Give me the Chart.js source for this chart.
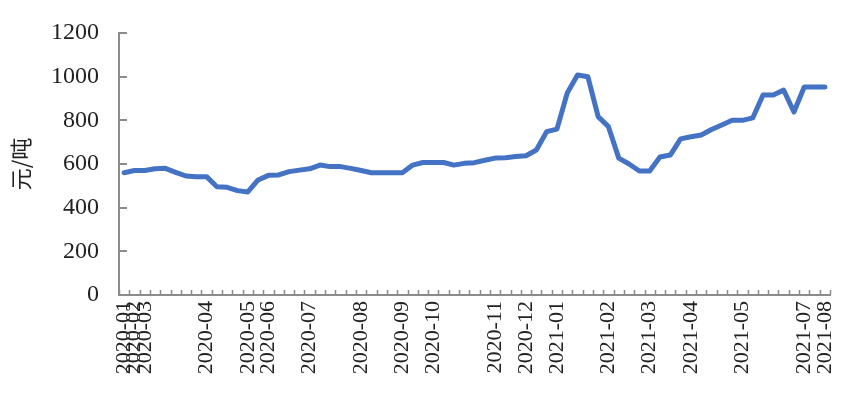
<!DOCTYPE html>
<html>
<head>
<meta charset="utf-8">
<style>
html,body{margin:0;padding:0;background:#fff;}
#wrap{width:844px;height:403px;}
</style>
<script src="https://cdn.jsdelivr.net/npm/chart.js@4"></script>
</head>
<body>
<div id="wrap"><canvas id="c" width="844" height="403"></canvas></div>
<script>
// Category tick labels (one per data point; most are blank, as in the reference)
const tickLabels = [
  '2020-01','2020-02','2020-03','','','','','','2020-04','',
  '','','2020-05','','2020-06','','','','2020-07','',
  '','','','2020-08','','','','2020-09','','',
  '2020-10','','','','','','2020-11','','','2020-12',
  '','','2021-01','','','','','2021-02','','',
  '','2021-03','','','','2021-04','','','','',
  '2021-05','','','','','','2021-07','','2021-08'
];

// Price series (元/吨)
const values = [
  560,570,570,578,580,562,545,542,542,496,
  493,478,472,527,548,550,565,572,578,595,
  588,588,580,570,560,560,560,560,595,607,
  607,607,595,603,606,617,627,629,634,638,
  664,748,760,925,1008,1000,817,771,627,600,
  568,568,632,641,715,725,733,758,779,800,
  800,811,916,916,939,838,953,953,953
];

const yTickValues = [0,200,400,600,800,1000,1200];
const yTitle = '元/吨';

const axisColor = '#8c8c8c';

const insideTicks = {
  id: 'insideTicks',
  afterDraw(chart) {
    const ctx = chart.ctx;
    const xs = chart.scales.x, ys = chart.scales.y;
    const area = chart.chartArea;
    ctx.save();
    ctx.strokeStyle = axisColor;
    ctx.lineWidth = 2;
    ctx.beginPath();
    yTickValues.forEach(v => {
      const y = Math.round(ys.getPixelForValue(v));
      ctx.moveTo(area.left, y);
      ctx.lineTo(area.left + 8, y);
    });
    ctx.stroke();
    ctx.lineWidth = 1.5;
    ctx.beginPath();
    for (let i = 0; i <= values.length; i++) {
      const x = Math.round(xs.getPixelForValue(i - 0.5)) + 0.5;
      ctx.moveTo(x, area.bottom);
      ctx.lineTo(x, area.bottom - 5);
    }
    ctx.stroke();
    ctx.restore();
  }
};

new Chart(document.getElementById('c'), {
  type: 'line',
  data: {
    labels: tickLabels,
    datasets: [{
      data: values,
      borderColor: '#4472C4',
      backgroundColor: '#4472C4',
      borderWidth: 5,
      pointRadius: 0,
      tension: 0,
      fill: false,
      borderJoinStyle: 'round',
      borderCapStyle: 'round'
    }]
  },
  options: {
    responsive: false,
    animation: false,
    layout: { padding: { top: 33, right: 14, left: 0, bottom: 0 } },
    plugins: { legend: { display: false }, tooltip: { enabled: false } },
    scales: {
      x: {
        offset: true,
        grid: { display: false, drawTicks: false },
        border: { display: true, color: axisColor, width: 2 },
        ticks: {
          autoSkip: false,
          maxRotation: 90,
          minRotation: 90,
          padding: 6,
          color: '#222',
          font: { family: 'Liberation Serif', size: 22 }
        },
        afterFit(s) { s.height = 108; s.paddingLeft = 0; s.paddingRight = 0; }
      },
      y: {
        min: 0,
        max: 1200,
        grid: { display: false, drawTicks: false },
        border: { display: true, color: axisColor, width: 2 },
        ticks: {
          stepSize: 200,
          padding: 20,
          color: '#222',
          font: { family: 'Liberation Serif', size: 24 },
          callback: v => String(v)
        },
        title: {
          display: true,
          text: yTitle,
          color: '#222',
          padding: { top: 7, bottom: 0 },
          font: { family: 'Noto Sans CJK SC', size: 22 }
        },
        afterFit(s) { s.width = 119; s.paddingTop = 0; s.paddingBottom = 0; }
      }
    }
  },
  plugins: [insideTicks]
});
</script>
</body>
</html>
